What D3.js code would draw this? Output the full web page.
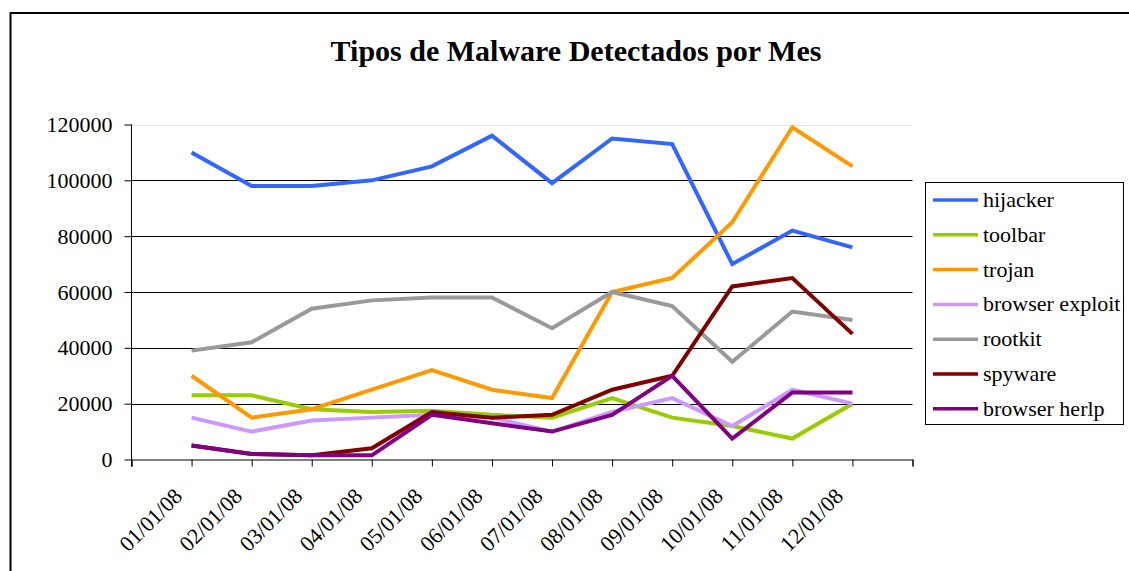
<!DOCTYPE html>
<html>
<head>
<meta charset="utf-8">
<script src="https://cdn.jsdelivr.net/npm/d3@7"></script>
<style>
  html, body { margin: 0; padding: 0; background: #fff; }
  svg { display: block; font-family: "Liberation Serif", "Times New Roman", serif; }
</style>
</head>
<body>
<svg id="chart" width="1129" height="571"></svg>
<script>
// Monthly detections per malware family (2008)
const months = ["01/01/08","02/01/08","03/01/08","04/01/08","05/01/08","06/01/08",
                "07/01/08","08/01/08","09/01/08","10/01/08","11/01/08","12/01/08"];
const seriesNames = ["hijacker","toolbar","trojan","browser exploit","rootkit","spyware","browser herlp"];
const hijacker       = [110000, 98000, 98000, 100000, 105000, 116000, 99000, 115000, 113000, 70000, 82000, 76000];
const toolbar        = [23000, 23000, 18000, 17000, 17500, 16000, 15000, 22000, 15000, 12000, 7500, 20000];
const trojan         = [30000, 15000, 18000, 25000, 32000, 25000, 22000, 60000, 65000, 85000, 119000, 105000];
const browserExploit = [15000, 10000, 14000, 15000, 16000, 15000, 10000, 17000, 22000, 12000, 25000, 20000];
const rootkit        = [39000, 42000, 54000, 57000, 58000, 58000, 47000, 60000, 55000, 35000, 53000, 50000];
const spyware        = [5000, 2000, 1500, 4000, 17000, 15000, 16000, 25000, 30000, 62000, 65000, 45000];
const browserHerlp   = [5000, 2000, 1500, 1500, 16000, 13000, 10000, 16000, 30000, 7500, 24000, 24000];
const yTicks = [0, 20000, 40000, 60000, 80000, 100000, 120000];
const colors = ["#3366FF","#99CC00","#FF9900","#CC99FF","#999999","#800000","#800080"];
const seriesValues = [hijacker, toolbar, trojan, browserExploit, rootkit, spyware, browserHerlp];

const svg = d3.select("#chart");

// Outer chart frame (left and top edges)
svg.append("path")
  .attr("d", "M10.5,571 L10.5,13 L1129,13")
  .attr("fill", "none").attr("stroke", "#000").attr("stroke-width", 2);

// Title
svg.append("text")
  .attr("x", 576).attr("y", 61)
  .attr("text-anchor", "middle")
  .attr("font-weight", "bold")
  .attr("font-size", 30)
  .text("Tipos de Malware Detectados por Mes");

// Scales: categories sit on tick positions 1..12 of a 0..13 axis
const x = d3.scaleLinear().domain([0, months.length + 1]).range([131.5, 912.5]);
const y = d3.scaleLinear().domain([0, 120000]).range([459.5, 124.5]);

// Horizontal gridlines
svg.append("g").selectAll("line")
  .data(yTicks.filter(v => v > 0))
  .join("line")
  .attr("x1", x(0)).attr("x2", x(months.length + 1))
  .attr("y1", d => Math.round(y(d)) + 0.5).attr("y2", d => Math.round(y(d)) + 0.5)
  .attr("stroke", d => d === 120000 ? "#e6e6e6" : "#000")
  .attr("stroke-width", 1);

// Y axis
const yAxis = svg.append("g")
  .attr("transform", `translate(${x(0)},0)`)
  .call(d3.axisLeft(y).tickValues(yTicks).tickSize(7).tickPadding(12).tickFormat(d3.format("d")));
yAxis.select(".domain").attr("d", `M0,${y(120000)}V${y(0) + 7}`).attr("stroke", "#000");
yAxis.selectAll(".tick text")
  .attr("font-family", "Liberation Serif, Times New Roman, serif")
  .attr("font-size", 22).attr("fill", "#000");
yAxis.selectAll(".tick line").attr("stroke", "#000");

// X axis (ticks only, labels drawn rotated)
const xAxis = svg.append("g")
  .attr("transform", `translate(0,${y(0)})`)
  .call(d3.axisBottom(x).tickValues(d3.range(0, months.length + 2)).tickSize(7).tickFormat(""));
xAxis.select(".domain").attr("stroke", "#000");
xAxis.selectAll(".tick line").attr("stroke", "#000");

svg.append("g").selectAll("text")
  .data(months)
  .join("text")
  .attr("transform", (d, i) => `translate(${x(i + 1) - 8},${y(0) + 38}) rotate(-45)`)
  .attr("text-anchor", "end")
  .attr("font-size", 22)
  .text(d => d);

// Series lines
const line = d3.line()
  .x((d, i) => x(i + 1))
  .y(d => y(d));

svg.append("g").selectAll("path")
  .data(seriesValues)
  .join("path")
  .attr("d", d => line(d))
  .attr("fill", "none")
  .attr("stroke", (d, i) => colors[i])
  .attr("stroke-width", 4)
  .attr("stroke-linejoin", "miter");

// Legend
const legend = svg.append("g");
legend.append("rect")
  .attr("x", 925.5).attr("y", 182.5).attr("width", 198).attr("height", 242)
  .attr("fill", "#fff").attr("stroke", "#000").attr("stroke-width", 1);
const item = legend.selectAll("g.item")
  .data(seriesNames)
  .join("g")
  .attr("class", "item")
  .attr("transform", (d, i) => `translate(0,${200 + i * 34.8})`);
item.append("line")
  .attr("x1", 933).attr("x2", 978)
  .attr("stroke", (d, i) => colors[i]).attr("stroke-width", 3.5);
item.append("text")
  .attr("x", 983).attr("y", 7)
  .attr("font-size", 22)
  .text(d => d);
</script>
</body>
</html>
